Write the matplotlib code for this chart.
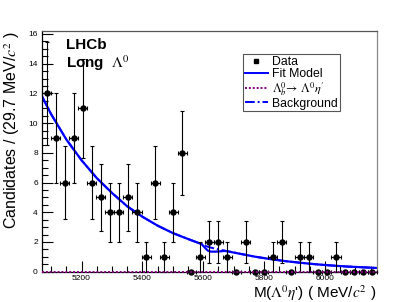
import matplotlib
matplotlib.use("Agg")
import matplotlib.pyplot as plt
from matplotlib.lines import Line2D
from matplotlib.ticker import MultipleLocator
import numpy as np

plt.rcParams['font.family'] = ['Liberation Sans', 'DejaVu Sans']
plt.rcParams['mathtext.fontset'] = 'stix'

# binning of the mass histogram (MeV/c^2)
mass_lo = 5070
mass_hi = 6170
counts = [12, 9, 6, 9, 11, 6, 5, 4, 4, 5, 4, 1, 6, 1, 4, 8, 0, 1, 2,
          2, 1, 0, 2, 0, 0, 1, 2, 0, 1, 1, 0, 0, 1, 0, 0, 0, 0]

# fit curves
fit_mass = [5070, 5100, 5150, 5200, 5250, 5300, 5350, 5400, 5450, 5500,
            5550, 5580, 5595, 5605, 5615, 5625, 5640, 5655, 5670, 5690,
            5720, 5770, 5820, 5870, 5920, 5970, 6020, 6070, 6120, 6170]
fit_total = [11.8, 10.6, 8.9, 7.5, 6.3, 5.3, 4.4, 3.7, 3.1, 2.6,
             2.2, 1.97, 1.85, 1.62, 1.42, 1.35, 1.35, 1.37, 1.40, 1.33,
             1.21, 1.01, 0.85, 0.71, 0.60, 0.50, 0.42, 0.35, 0.30, 0.25]
fit_bkg = [11.8, 10.6, 8.9, 7.5, 6.3, 5.3, 4.4, 3.7, 3.1, 2.6,
           2.2, 1.97, 1.86, 1.76, 1.68, 1.62, 1.55, 1.48, 1.42, 1.34,
           1.21, 1.01, 0.85, 0.71, 0.60, 0.50, 0.42, 0.35, 0.30, 0.25]
fit_sig = [0.0, 0.0, 0.0, 0.0, 0.0, 0.0, 0.0, 0.0, 0.0, 0.0,
           0.0, 0.0, 0.0, 0.0, 0.0, 0.0, 0.0, 0.0, 0.0, 0.0,
           0.0, 0.0, 0.0, 0.0, 0.0, 0.0, 0.0, 0.0, 0.0, 0.0]

nbins = len(counts)
edges = np.linspace(mass_lo, mass_hi, nbins + 1)
centers = 0.5 * (edges[1:] + edges[:-1])
half = 0.5 * (edges[1] - edges[0])
cnt = np.array(counts, dtype=float)
err = np.sqrt(cnt)

fig = plt.figure(figsize=(4.19, 3.02), dpi=100)
ax = fig.add_axes([42 / 419, 30.3 / 302, 334.7 / 419, 240.7 / 302])

ax.plot(fit_mass, fit_bkg, color='#0000ff', lw=1.4, ls=(0, (5, 1.5, 1, 1.5)))
ax.plot(fit_mass, fit_total, color='#0000ff', lw=1.6)
ax.errorbar(centers, cnt, xerr=half, yerr=err, fmt='o', color='black',
            ms=3.6, elinewidth=0.8, capsize=1.3, capthick=0.8, clip_on=False,
            zorder=3)
ax.plot(fit_mass, fit_sig, color='#800080', lw=1.4, ls=(0, (1, 1)), zorder=4,
        clip_on=False)

ax.set_xlim(mass_lo, mass_hi)
ax.set_ylim(0, 16.2)
ax.xaxis.set_major_locator(MultipleLocator(200))
ax.xaxis.set_minor_locator(MultipleLocator(50))
ax.yaxis.set_major_locator(MultipleLocator(2))
ax.yaxis.set_minor_locator(MultipleLocator(0.5))
ax.tick_params(which='both', direction='in', top=False, right=False,
               width=0.8, labelsize=6)
ax.tick_params(which='major', length=8)
ax.tick_params(which='minor', length=4)
ax.tick_params(axis='y', pad=3)
ax.tick_params(axis='x', pad=2.5)
ax.spines['top'].set_color('#555555')
ax.spines['right'].set_color('#888888')
for s in ax.spines.values():
    s.set_linewidth(0.9)

ax.set_ylabel('Candidates / (29.7 MeV/$c^2$ )', fontsize=11.5, loc='top')
ax.yaxis.set_label_coords(-0.06, 1.0)
ax.set_xlabel("M($\\Lambda^0\\eta$') ( MeV/$c^2$ )", fontsize=11, loc='right')
ax.xaxis.set_label_coords(1.0, -0.05)

ax.text(0.072, 0.925, 'LHCb', transform=ax.transAxes, fontsize=11,
        fontweight='bold', va='baseline')
ax.text(0.072, 0.847, 'Long  $\\Lambda^0$', transform=ax.transAxes, fontsize=11,
        fontweight='bold', va='baseline')

handles = [
    Line2D([], [], marker='s', color='black', ls='none', ms=3.5),
    Line2D([], [], color='#0000ff', lw=1.4),
    Line2D([], [], color='#800080', lw=1.4, ls=(0, (1, 1))),
    Line2D([], [], color='#0000ff', lw=1.4, ls=(0, (5, 1.5, 1, 1.5))),
]
labels = ['Data', 'Fit Model', "$\\Lambda_b^0\\!\\rightarrow\\,\\Lambda^0\\eta'$",
          'Background']
leg = ax.legend(handles, labels, loc='upper left', bbox_to_anchor=(0.6, 0.903),
                borderaxespad=0, fontsize=8.8, handlelength=1.9,
                handletextpad=0.35, labelspacing=0.0, borderpad=0.15,
                fancybox=False, framealpha=1, edgecolor='#555555')
leg.get_frame().set_linewidth(0.8)

fig.savefig('out.png', dpi=100)
